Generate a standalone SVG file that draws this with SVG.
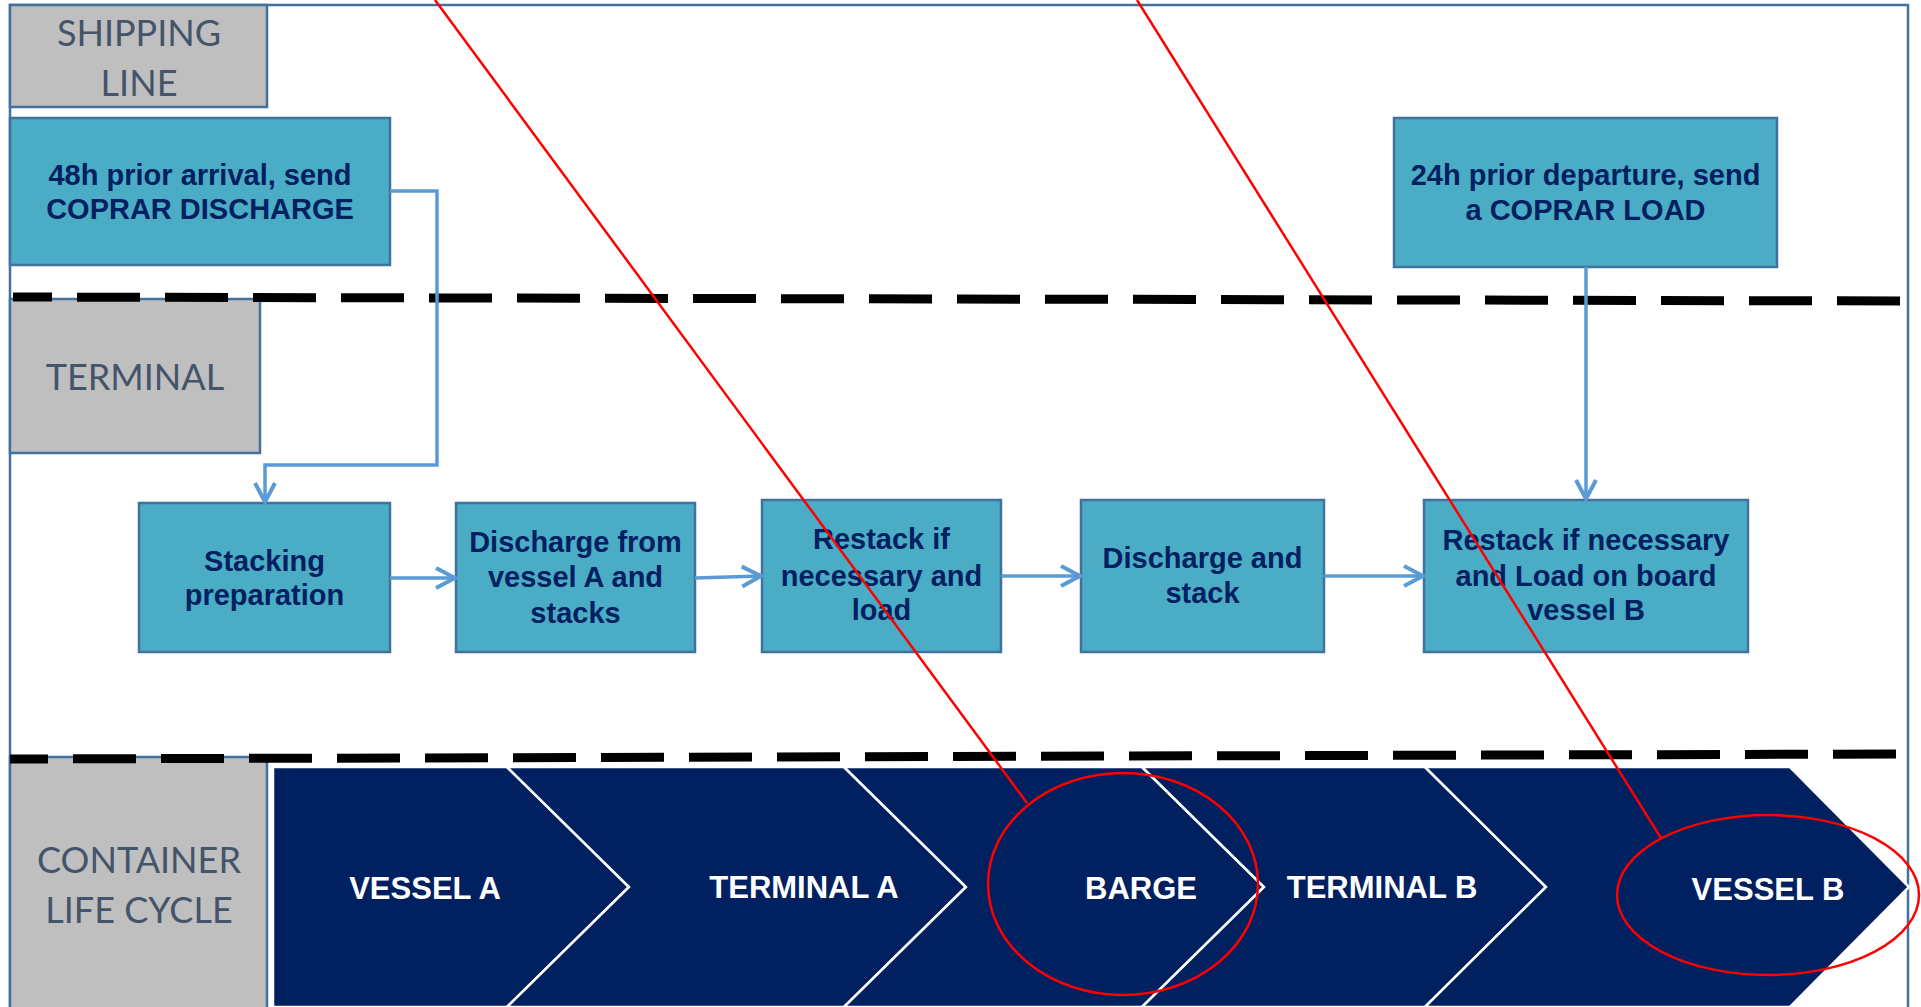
<svg xmlns="http://www.w3.org/2000/svg" width="1921" height="1007" viewBox="0 0 1921 1007">
<style>
.lane{fill:#bfbfbf;stroke:#41719c;stroke-width:2.5}
.lanetxt{font-family:Lato,"Open Sans",sans-serif;font-size:36px;fill:#44546a;text-anchor:middle}
.box{fill:#4bacc6;stroke:#41719c;stroke-width:2.5}
.boxtxt{font-family:"Liberation Sans",Arial,sans-serif;font-weight:bold;font-size:29px;fill:#002060;text-anchor:middle}
.conn{fill:none;stroke:#5b9bd5;stroke-width:3.5}
.dash{stroke:#000;stroke-width:9;stroke-dasharray:63 25}
.chev{fill:#002060;stroke:#ffffff;stroke-width:2.5;stroke-linejoin:miter}
.chevtxt{font-family:"Liberation Sans",Arial,sans-serif;font-weight:bold;font-size:31px;fill:#ffffff;text-anchor:middle}
.red{fill:none;stroke:#ff0000;stroke-width:2.5}
</style>
<defs>
<marker id="arr" markerWidth="26" markerHeight="28" refX="21" refY="14" orient="auto" markerUnits="userSpaceOnUse">
<path d="M2,4 L21,14 L2,24" fill="none" stroke="#5b9bd5" stroke-width="4"/>
</marker>
</defs>
<rect width="1921" height="1007" fill="#ffffff"/>
<!-- outer frame -->
<path d="M10,1010 L10,5 L1908,5 L1908,1010" fill="none" stroke="#41719c" stroke-width="2.5"/>

<!-- lanes -->
<g id="lane-shipping">
<rect class="lane" x="10" y="5" width="257" height="102"/>
<text class="lanetxt" x="139" y="46">SHIPPING</text>
<text class="lanetxt" x="139" y="96">LINE</text>
</g>
<g id="lane-terminal">
<rect class="lane" x="10" y="299" width="250" height="154"/>
<text class="lanetxt" x="135" y="390">TERMINAL</text>
</g>
<g id="lane-lifecycle">
<rect class="lane" x="10" y="757" width="257" height="260"/>
<text class="lanetxt" x="139" y="873">CONTAINER</text>
<text class="lanetxt" x="139" y="923">LIFE CYCLE</text>
</g>

<!-- dashed separators -->
<line class="dash" x1="13" y1="297" x2="1900" y2="301" stroke-dashoffset="24"/>
<line class="dash" x1="10" y1="759" x2="1897" y2="754" stroke-dashoffset="25"/>

<!-- nodes -->
<g id="coprar-discharge">
<rect class="box" x="10" y="118" width="380" height="147"/>
<text class="boxtxt" x="200" y="185">48h prior arrival, send</text>
<text class="boxtxt" x="200" y="219">COPRAR DISCHARGE</text>
</g>
<g id="coprar-load">
<rect class="box" x="1394" y="118" width="383" height="149"/>
<text class="boxtxt" x="1585.5" y="185">24h prior departure, send</text>
<text class="boxtxt" x="1585.5" y="220">a COPRAR LOAD</text>
</g>
<g id="stacking-preparation">
<rect class="box" x="139" y="503" width="251" height="149"/>
<text class="boxtxt" x="264.5" y="571">Stacking</text>
<text class="boxtxt" x="264.5" y="605">preparation</text>
</g>
<g id="discharge-vessel-a">
<rect class="box" x="456" y="503" width="239" height="149"/>
<text class="boxtxt" x="575.5" y="552">Discharge from</text>
<text class="boxtxt" x="575.5" y="587">vessel A and</text>
<text class="boxtxt" x="575.5" y="623">stacks</text>
</g>
<g id="restack-load">
<rect class="box" x="762" y="500" width="239" height="152"/>
<text class="boxtxt" x="881.5" y="549">Restack if</text>
<text class="boxtxt" x="881.5" y="586">necessary and</text>
<text class="boxtxt" x="881.5" y="620">load</text>
</g>
<g id="discharge-stack">
<rect class="box" x="1081" y="500" width="243" height="152"/>
<text class="boxtxt" x="1202.5" y="568">Discharge and</text>
<text class="boxtxt" x="1202.5" y="603">stack</text>
</g>
<g id="restack-load-vessel-b">
<rect class="box" x="1424" y="500" width="324" height="152"/>
<text class="boxtxt" x="1586" y="550">Restack if necessary</text>
<text class="boxtxt" x="1586" y="586">and Load on board</text>
<text class="boxtxt" x="1586" y="620">vessel B</text>
</g>

<!-- connectors -->
<g id="connectors">
<path class="conn" d="M390,191 L437,191 L437,465 L265,465 L265,502" marker-end="url(#arr)"/>
<path class="conn" d="M1586,267 L1586,499" marker-end="url(#arr)"/>
<path class="conn" d="M390,578 L455,578" marker-end="url(#arr)"/>
<path class="conn" d="M695,578 L761,576" marker-end="url(#arr)"/>
<path class="conn" d="M1001,576 L1080,576" marker-end="url(#arr)"/>
<path class="conn" d="M1324,576 L1423,576" marker-end="url(#arr)"/>
</g>

<!-- container life cycle band -->
<g id="vessel-a">
<polygon class="chev" points="273,767 507,767 629,887 507,1007 273,1007"/>
<text class="chevtxt" x="425" y="899">VESSEL A</text>
</g>
<g id="terminal-a">
<polygon class="chev" points="507,767 844,767 966,887 844,1007 507,1007 629,887"/>
<text class="chevtxt" x="804" y="898">TERMINAL A</text>
</g>
<g id="barge">
<polygon class="chev" points="844,767 1142,767 1264,887 1142,1007 844,1007 966,887"/>
<text class="chevtxt" x="1141" y="899">BARGE</text>
</g>
<g id="terminal-b">
<polygon class="chev" points="1142,767 1425,767 1546,887 1425,1007 1142,1007 1264,887"/>
<text class="chevtxt" x="1382" y="898">TERMINAL B</text>
</g>
<g id="vessel-b">
<polygon class="chev" points="1425,767 1790,767 1909,887 1790,1007 1425,1007 1546,887"/>
<text class="chevtxt" x="1768" y="900">VESSEL B</text>
</g>

<!-- red annotations -->
<g id="annotations">
<line class="red" x1="435" y1="0" x2="1027" y2="803"/>
<ellipse class="red" cx="1123" cy="884" rx="135" ry="111"/>
<line class="red" x1="1137" y1="0" x2="1661" y2="838"/>
<ellipse class="red" cx="1768" cy="895" rx="151" ry="80"/>
</g>
</svg>
